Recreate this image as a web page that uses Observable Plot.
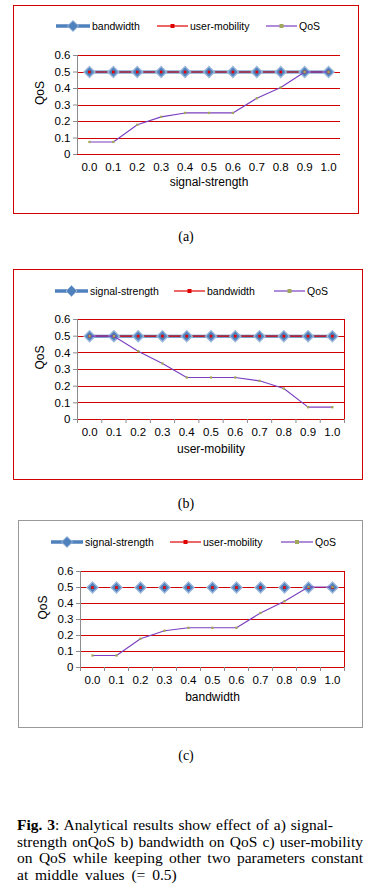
<!DOCTYPE html>
<html>
<head>
<meta charset="utf-8">
<script src="https://cdn.jsdelivr.net/npm/d3@7"></script>
<script src="https://cdn.jsdelivr.net/npm/@observablehq/plot@0.6"></script>
<style>
  html, body { margin: 0; padding: 0; background: #fff; }
  #page { position: relative; width: 376px; height: 895px; overflow: hidden; background: #fff; }
  .box { position: absolute; box-sizing: border-box; }
  .legend { position: absolute; left: 0; width: 376px; height: 14px; font-family: "Liberation Sans", Arial, sans-serif; font-size: 10.5px; color: #000; }
  .legend .item { position: absolute; top: 0; height: 14px; display: flex; align-items: center; white-space: nowrap; }
  .legend svg { display: block; margin-right: 2px; }
  .sub { position: absolute; left: 0; width: 372px; text-align: center; font-family: "Liberation Serif", "Times New Roman", serif; font-size: 14px; }
  .cap { position: absolute; left: 17px; font-family: "Liberation Serif", "Times New Roman", serif; font-size: 15.5px; line-height: 16.5px; white-space: nowrap; color: #000; }
  .cap .ln { display: block; text-align: justify; text-align-last: justify; }
</style>
</head>
<body>
<div id="page"></div>
<script>
// ---------- data ----------
const xValues = [0.0, 0.1, 0.2, 0.3, 0.4, 0.5, 0.6, 0.7, 0.8, 0.9, 1.0];
const constantBlue = [0.5, 0.5, 0.5, 0.5, 0.5, 0.5, 0.5, 0.5, 0.5, 0.5, 0.5];
const constantRed = [0.5, 0.5, 0.5, 0.5, 0.5, 0.5, 0.5, 0.5, 0.5, 0.5, 0.5];
const qosA = [0.076, 0.076, 0.18, 0.228, 0.252, 0.252, 0.252, 0.341, 0.406, 0.5, 0.5];
const qosB = [0.5, 0.5, 0.41, 0.336, 0.252, 0.252, 0.252, 0.232, 0.186, 0.074, 0.074];
const qosC = [0.075, 0.075, 0.18, 0.23, 0.248, 0.248, 0.248, 0.341, 0.414, 0.503, 0.503];
const yTicks = [0, 0.1, 0.2, 0.3, 0.4, 0.5, 0.6];
const legendA = ["bandwidth", "user-mobility", "QoS"];
const legendB = ["signal-strength", "bandwidth", "QoS"];
const legendC = ["signal-strength", "user-mobility", "QoS"];
const xTitles = ["signal-strength", "user-mobility", "bandwidth"];
const subLabels = ["(a)", "(b)", "(c)"];
const yTitle = "QoS";

// ---------- styles ----------
const BLUE = "#4F81BD", BLUE_HALO = "#9fb9dc", RED = "#e00000", GRID = "#d00000", PURPLE = "#7a3fc0", OLIVE = "#a0a85a", AXIS = "#8c8c8c";

const page = document.getElementById("page");

function addBox(l, t, r, b, color) {
  const d = document.createElement("div");
  d.className = "box";
  Object.assign(d.style, { left: l + "px", top: t + "px", width: (r - l) + "px", height: (b - t) + "px", border: "1px solid " + color });
  page.appendChild(d);
}

function legendSwatch(kind, w) {
  const ns = "http://www.w3.org/2000/svg";
  const s = document.createElementNS(ns, "svg");
  s.setAttribute("width", w); s.setAttribute("height", 14);
  const mid = w / 2;
  let html = "";
  if (kind === 0) {
    html = `<line x1="0" x2="${w}" y1="7" y2="7" stroke="${BLUE}" stroke-width="3.5"/>` +
      `<path d="M${mid},1.5L${mid + 5.5},7L${mid},12.5L${mid - 5.5},7Z" fill="${BLUE}" stroke="${BLUE_HALO}" stroke-width="1"/>`;
  } else if (kind === 1) {
    html = `<line x1="0" x2="${w}" y1="7" y2="7" stroke="${RED}" stroke-width="1.2"/>` +
      `<rect x="${mid - 2}" y="5" width="4" height="4" fill="${RED}"/>`;
  } else {
    html = `<line x1="0" x2="${w}" y1="7" y2="7" stroke="${PURPLE}" stroke-width="1.2"/>` +
      `<rect x="${mid - 2}" y="5" width="4" height="4" fill="${OLIVE}"/>`;
  }
  s.innerHTML = html;
  return s;
}

function addLegend(top, labels, starts, widths) {
  const lg = document.createElement("div");
  lg.className = "legend";
  lg.style.top = (top - 7) + "px";
  labels.forEach((lab, i) => {
    const it = document.createElement("div");
    it.className = "item";
    it.style.left = starts[i] + "px";
    it.appendChild(legendSwatch(i, widths[i]));
    const sp = document.createElement("span");
    sp.textContent = lab;
    it.appendChild(sp);
    lg.appendChild(it);
  });
  page.appendChild(lg);
}

function makeChart({ qos, xTitle, top, height, ml, mr, mb, blueLine, redLine, xTicks, rightBorder, titleGap }) {
  const rows = xValues.map((x, i) => ({ x, blue: constantBlue[i], red: constantRed[i], qos: qos[i] }));
  const half = (xValues[1] - xValues[0]) / 2;
  const boundaries = xValues.map(x => +(x - half).toFixed(2)).concat([+(xValues[xValues.length - 1] + half).toFixed(2)]);
  const svg = Plot.plot({
    width: 376,
    height,
    marginLeft: ml,
    marginRight: mr,
    marginTop: 15,
    marginBottom: mb,
    style: { fontFamily: "'Liberation Sans', Arial, sans-serif", fontSize: "11.5px", color: "#000", background: "transparent", overflow: "visible" },
    x: { domain: [boundaries[0], boundaries[boundaries.length - 1]] },
    y: { domain: [0, 0.6] },
    marks: [
      Plot.ruleY(yTicks, { stroke: GRID, strokeWidth: 1, shapeRendering: "crispEdges" }),
      rightBorder ? Plot.ruleX([boundaries[boundaries.length - 1]], { stroke: GRID, strokeWidth: 1, shapeRendering: "crispEdges" }) : null,
      Plot.ruleX([boundaries[0]], { stroke: AXIS, strokeWidth: 1, shapeRendering: "crispEdges" }),
      Plot.axisY({ ticks: yTicks, tickFormat: d => d === 0 ? "0" : d.toFixed(1), tickSize: 4, tickPadding: 3, stroke: AXIS, label: null }),
      Plot.axisX({ ticks: xValues, tickFormat: d => d.toFixed(1), tickSize: 0, tickPadding: 8, label: null }),
      xTicks ? Plot.axisX({ ticks: boundaries, tickFormat: () => "", tickSize: 4, stroke: AXIS, label: null }) : null,
      Plot.text([xTitle], { frameAnchor: "bottom", dy: titleGap, fontSize: 12 }),
      Plot.text([yTitle], { frameAnchor: "left", dx: -37, rotate: -90, fontSize: 12 }),
      blueLine ? Plot.line(rows, { x: "x", y: "blue", stroke: BLUE, strokeWidth: 3 }) : null,
      redLine ? Plot.line(rows, { x: "x", y: "red", stroke: RED, strokeWidth: 1.2 }) : null,
      Plot.dot(rows, { x: "x", y: "blue", symbol: "diamond2", r: 5, fill: BLUE, stroke: BLUE_HALO, strokeWidth: 1.3 }),
      Plot.dot(rows, { x: "x", y: "red", symbol: "square", r: 1.5, fill: RED, stroke: "none" }),
      Plot.line(rows, { x: "x", y: "qos", stroke: PURPLE, strokeWidth: 1.1 }),
      Plot.dot(rows, { x: "x", y: "qos", symbol: "square", r: 1.3, fill: OLIVE, stroke: "none" })
    ]
  });
  svg.style.position = "absolute";
  svg.style.left = "0px";
  svg.style.top = top + "px";
  page.appendChild(svg);
}

// Panel (a)
addBox(13, 5, 359, 214, GRID);
addLegend(26, legendA, [56, 157, 266], [34, 31, 31]);
makeChart({ qos: qosA, xTitle: xTitles[0], top: 40, height: 160, ml: 77, mr: 36, mb: 46, blueLine: true, redLine: true, xTicks: false, rightBorder: false, titleGap: 31 });

// Panel (b)
addBox(13, 269, 363, 480, GRID);
addLegend(291, legendB, [55, 174, 274], [33, 31, 31]);
makeChart({ qos: qosB, xTitle: xTitles[1], top: 304, height: 160, ml: 77, mr: 32, mb: 45, blueLine: true, redLine: true, xTicks: true, rightBorder: true, titleGap: 33 });

// Panel (c)
addBox(18, 520, 363, 728, "#999999");
addLegend(542, legendC, [51, 170, 281], [32, 31, 32]);
makeChart({ qos: qosC, xTitle: xTitles[2], top: 556, height: 160, ml: 80, mr: 32, mb: 49, blueLine: false, redLine: false, xTicks: true, rightBorder: true, titleGap: 33 });

// sub-captions
[[238, 0], [505, 1], [757, 2]].forEach(([y, i]) => {
  const d = document.createElement("div");
  d.className = "sub";
  d.style.top = (y - 9) + "px";
  d.textContent = subLabels[i];
  page.appendChild(d);
});

// figure caption
const cap = document.createElement("div");
cap.className = "cap";
cap.style.top = "817px";
cap.innerHTML =
  '<span class="ln" style="width:316px"><b>Fig. 3</b>: Analytical results show effect of a) signal-</span>' +
  '<span class="ln" style="width:346px">strength onQoS b) bandwidth on QoS c) user-mobility</span>' +
  '<span class="ln" style="width:346px">on QoS while keeping other two parameters constant</span>' +
  '<span class="ln" style="width:160px; text-align:left; text-align-last:left; word-spacing:3px">at middle values (= 0.5)</span>';
page.appendChild(cap);
</script>
</body>
</html>
